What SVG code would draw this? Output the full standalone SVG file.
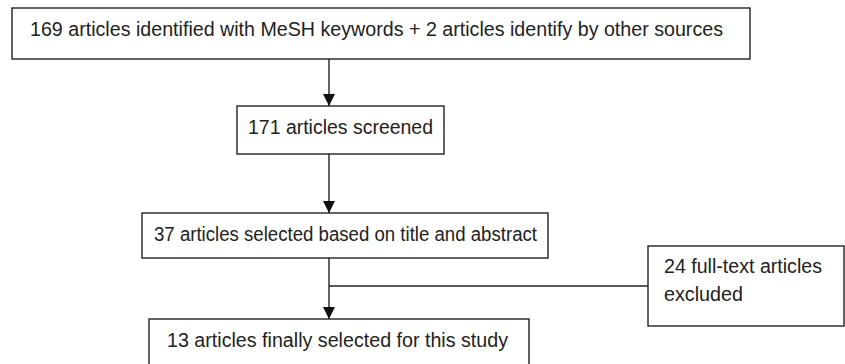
<svg xmlns="http://www.w3.org/2000/svg" width="845" height="364" viewBox="0 0 845 364">
<style>
.box{fill:#fff;stroke:#222;stroke-width:1.4}
.t{font-family:"Liberation Sans",Arial,sans-serif;font-size:19.5px;fill:#222}
.c{fill:none;stroke:#222;stroke-width:1.4}
</style>
<defs>
<marker id="ah" markerUnits="userSpaceOnUse" markerWidth="14" markerHeight="14" refX="12" refY="6" orient="auto">
<path d="M0,0 L12,6 L0,12 Z" fill="#111"/>
</marker>
</defs>
<rect width="845" height="364" fill="#fff"/>
<g id="connectors">
<line class="c" x1="329" y1="59" x2="329" y2="106" marker-end="url(#ah)"/>
<line class="c" x1="329" y1="154" x2="329" y2="213" marker-end="url(#ah)"/>
<line class="c" x1="329" y1="258" x2="329" y2="319" marker-end="url(#ah)"/>
<line class="c" x1="329" y1="286" x2="648" y2="286"/>
</g>
<g id="n1"><rect class="box" x="12" y="8" width="738" height="51"/><text class="t" x="30" y="36" textLength="693" lengthAdjust="spacingAndGlyphs">169 articles identified with MeSH keywords + 2 articles identify by other sources</text></g>
<g id="n2"><rect class="box" x="237" y="106" width="207" height="48"/><text class="t" x="248" y="134" textLength="185" lengthAdjust="spacingAndGlyphs">171 articles screened</text></g>
<g id="n3"><rect class="box" x="142" y="213" width="406" height="45"/><text class="t" x="154" y="241" textLength="383" lengthAdjust="spacingAndGlyphs">37 articles selected based on title and abstract</text></g>
<g id="n4"><rect class="box" x="648" y="246" width="196" height="80"/><text class="t" x="664" y="273" textLength="158" lengthAdjust="spacingAndGlyphs">24 full-text articles</text><text class="t" x="664" y="301" textLength="79" lengthAdjust="spacingAndGlyphs">excluded</text></g>
<g id="n5"><rect class="box" x="149" y="319" width="380" height="60"/><text class="t" x="167" y="347" textLength="341" lengthAdjust="spacingAndGlyphs">13 articles finally selected for this study</text></g>
</svg>
